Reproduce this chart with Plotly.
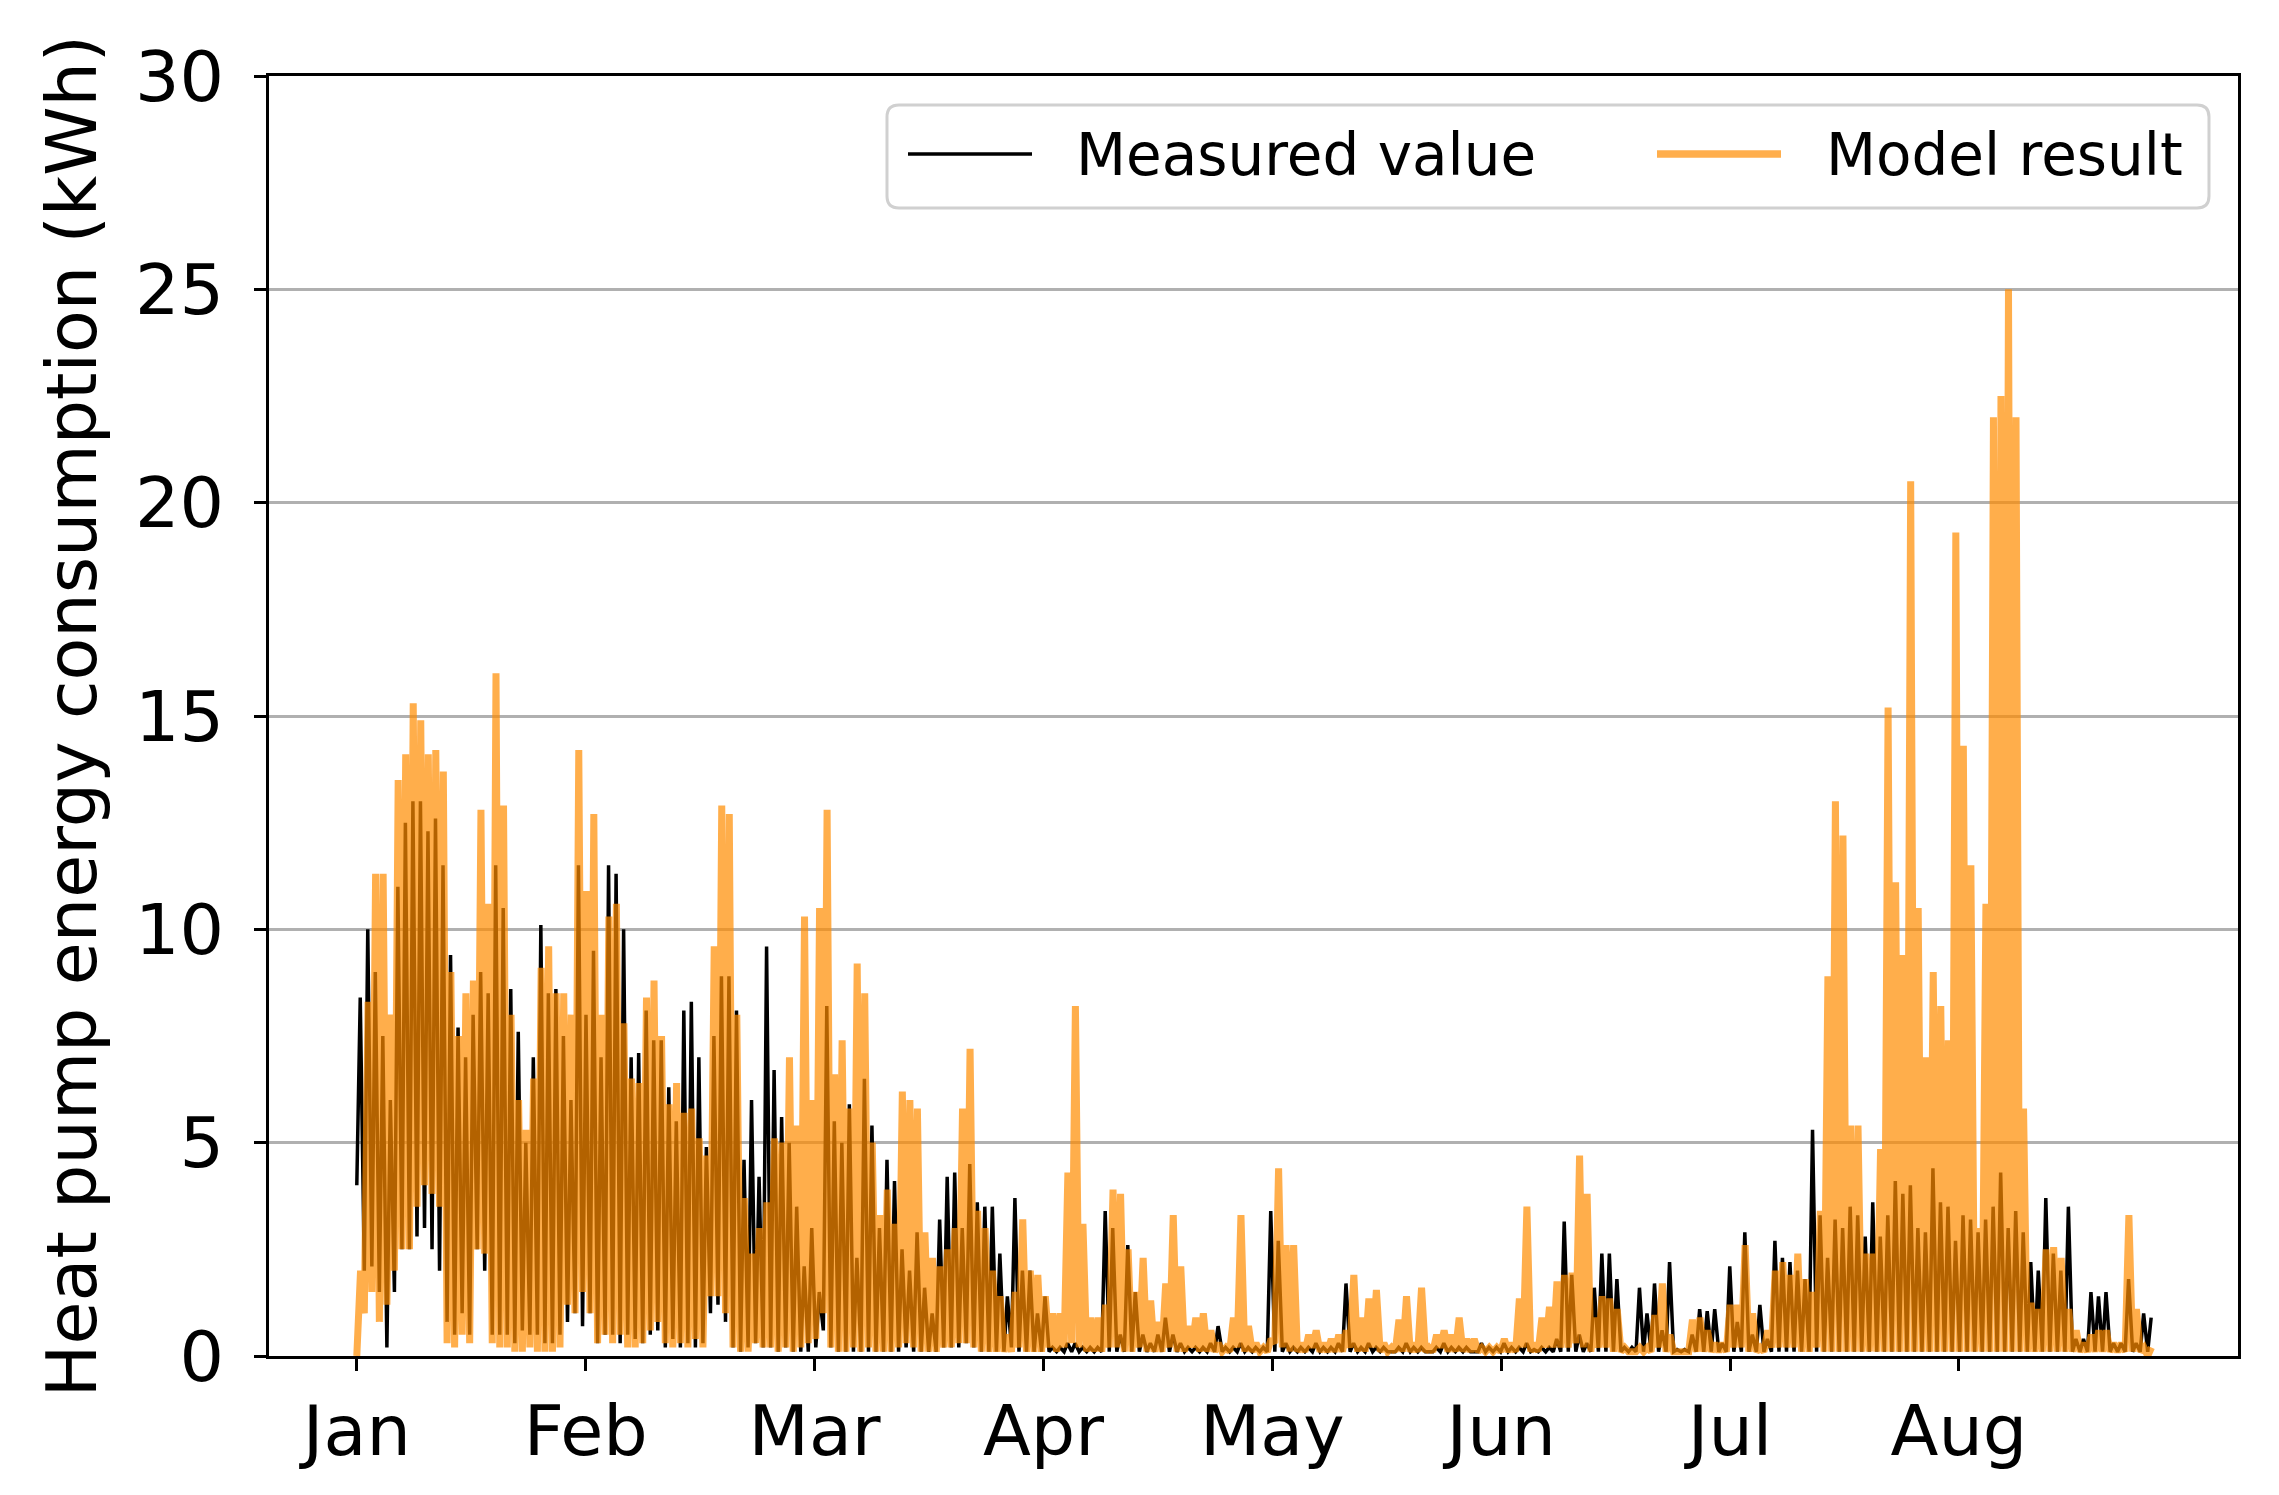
import plotly.graph_objects as go

# ---------------- data (one value pair per day) ----------------
month_labels = ["Jan", "Feb", "Mar", "Apr", "May", "Jun", "Jul", "Aug"]
month_hours = [0, 730, 1460, 2190, 2920, 3650, 4380, 5110]

# Model result: daily peak values (kWh)
model_peak = [
    2.0, 8.3, 11.3, 11.3, 8.0, 13.5, 14.1, 15.3, 14.9, 14.1,
    14.2, 13.7, 9.0, 7.5, 8.5, 8.8, 12.8, 10.6, 16.0, 12.9,
    8.0, 6.0, 5.3, 6.5, 9.1, 9.6, 8.5, 8.5, 8.0, 14.2,
    10.9, 12.7, 8.0, 10.3, 10.6, 7.8, 6.5, 6.4, 8.4, 8.8,
    7.5, 5.9, 6.4, 5.7, 5.8, 5.1, 4.7, 9.6, 12.9, 12.7,
    8.0, 3.7, 2.4, 3.0, 3.6, 5.1, 5.0, 7.0, 5.4, 10.3,
    6.0, 10.5, 12.8, 6.6, 7.4, 5.8, 9.2, 8.5, 5.0, 3.3,
    3.9, 3.1, 6.2, 6.0, 5.8, 2.9, 2.3, 2.1, 2.5, 3.0,
    5.8, 7.2, 3.4, 3.0, 2.0, 1.4, 0.5, 1.5, 3.2, 2.0,
    1.9, 1.4, 1.0, 1.0, 4.3, 8.2, 3.1, 0.9, 0.9, 1.2,
    3.9, 3.8, 2.5, 1.5, 2.3, 1.3, 0.8, 1.7, 3.3, 2.1,
    0.7, 0.9, 1.0, 0.6, 0.3, 0.2, 0.9, 3.3, 0.7, 0.3,
    0.2, 0.4, 4.4, 2.6, 2.6, 0.3, 0.5, 0.6, 0.3, 0.4,
    0.5, 0.6, 1.9, 0.9, 1.35, 1.55, 0.3, 0.2, 0.85, 1.4,
    0.3, 1.6, 0.2, 0.5, 0.6, 0.5, 0.9, 0.4, 0.4, 0.2,
    0.2, 0.2, 0.4, 0.3, 1.35, 3.5, 0.3, 0.9, 1.15, 1.75,
    1.9, 1.95, 4.7, 3.8, 0.9, 1.4, 1.35, 1.1, 0.2, 0.1,
    0.2, 0.2, 0.96, 1.7, 0.5, 0.1, 0.1, 0.85, 0.9, 0.6,
    0.3, 0.3, 1.2, 1.2, 2.6, 1.0, 0.2, 0.6, 2.0, 2.2,
    1.9, 2.4, 1.8, 1.5, 3.4, 8.9, 13.0, 12.2, 5.4, 5.4,
    2.4, 2.4, 4.85, 15.2, 11.1, 9.4, 20.5, 10.5, 7.0, 9.0,
    8.2, 7.4, 19.3, 14.3, 11.5, 3.0, 10.6, 22.0, 22.5, 25.0,
    22.0, 5.8, 1.25, 1.1, 2.5, 2.55, 2.3, 1.1, 0.6, 0.3,
    0.5, 0.6, 0.6, 0.3, 0.3, 3.3, 1.1, 0.2, 0.2,
]

# Model result: daily low values (kWh)
model_low = [
    0.0, 1.0, 1.5, 0.8, 1.2, 2.0, 2.5, 2.5, 3.5, 4.0,
    3.8, 3.5, 0.3, 0.2, 0.5, 0.3, 2.5, 2.4, 0.3, 0.2,
    0.2, 0.1, 0.1, 0.2, 0.1, 0.1, 0.1, 0.2, 1.2, 1.0,
    1.5, 1.0, 0.3, 0.5, 0.3, 0.5, 0.2, 0.2, 0.3, 0.6,
    0.8, 0.3, 0.2, 0.3, 0.2, 0.4, 0.2, 1.4, 1.4, 1.0,
    0.2, 0.1, 0.1, 0.3, 0.2, 0.2, 0.1, 0.2, 0.1, 0.2,
    0.3, 0.4, 1.0, 0.2, 0.1, 0.1, 0.2, 0.1, 0.2, 0.1,
    0.1, 0.1, 0.2, 0.3, 0.2, 0.1, 0.1, 0.1, 0.2, 0.2,
    0.3, 0.3, 0.2, 0.1, 0.1, 0.1, 0.1, 0.1, 0.2, 0.1,
    0.1, 0.1, 0.2, 0.1, 0.2, 0.3, 0.2, 0.1, 0.1, 0.1,
    0.2, 0.2, 0.1, 0.1, 0.2, 0.1, 0.1, 0.1, 0.2, 0.1,
    0.1, 0.2, 0.1, 0.1, 0.1, 0.1, 0.1, 0.2, 0.1, 0.1,
    0.1, 0.1, 0.3, 0.2, 0.1, 0.1, 0.1, 0.2, 0.1, 0.1,
    0.1, 0.1, 0.2, 0.1, 0.1, 0.2, 0.1, 0.1, 0.1, 0.1,
    0.1, 0.1, 0.1, 0.1, 0.2, 0.1, 0.1, 0.1, 0.1, 0.1,
    0.1, 0.1, 0.1, 0.1, 0.1, 0.2, 0.1, 0.1, 0.2, 0.2,
    0.2, 0.2, 0.3, 0.2, 0.1, 0.2, 0.2, 0.1, 0.1, 0.1,
    0.1, 0.1, 0.1, 0.2, 0.1, 0.1, 0.1, 0.1, 0.1, 0.1,
    0.1, 0.1, 0.1, 0.2, 0.2, 0.1, 0.1, 0.1, 0.2, 0.2,
    0.2, 0.2, 0.1, 0.1, 0.2, 0.1, 0.1, 0.1, 0.1, 0.1,
    0.1, 0.1, 0.1, 0.1, 0.1, 0.1, 0.1, 0.1, 0.1, 0.1,
    0.1, 0.1, 0.1, 0.1, 0.1, 0.1, 0.1, 0.1, 0.1, 0.1,
    0.1, 0.1, 0.1, 0.1, 0.1, 0.1, 0.1, 0.1, 0.1, 0.1,
    0.1, 0.1, 0.1, 0.1, 0.1, 0.1, 0.1, 0.1, 0.0,
]

# Measured value: daily peak values (kWh)
measured_peak = [
    8.4, 10.0, 9.0, 7.5, 6.0, 11.0, 12.5, 13.0, 13.0, 12.3,
    12.6, 11.5, 9.4, 7.7, 7.0, 8.0, 9.0, 8.5, 11.5, 10.5,
    8.6, 7.6, 5.0, 7.0, 10.1, 8.5, 8.6, 7.5, 6.0, 11.5,
    8.0, 9.5, 7.0, 11.5, 11.3, 10.0, 7.0, 7.1, 8.1, 7.4,
    7.4, 6.3, 5.5, 8.1, 8.3, 7.0, 4.9, 7.5, 8.9, 8.9,
    8.1, 4.6, 6.0, 4.2, 9.6, 6.7, 5.6, 5.0, 3.5, 2.1,
    3.0, 1.5, 8.2, 5.5, 5.0, 5.9, 2.3, 6.5, 5.4, 3.0,
    4.6, 4.1, 2.5, 2.0, 2.9, 1.6, 1.0, 3.2, 4.2, 4.3,
    3.0, 4.5, 3.6, 3.5, 3.5, 2.4, 1.4, 3.7, 2.0, 2.0,
    1.0, 1.4, 0.2, 0.2, 0.3, 0.3, 0.2, 0.2, 0.2, 3.4,
    3.0, 0.5, 2.6, 1.5, 0.5, 0.3, 0.5, 0.9, 0.5, 0.3,
    0.2, 0.2, 0.2, 0.3, 0.7, 0.2, 0.2, 0.3, 0.2, 0.2,
    0.2, 3.4, 2.7, 0.3, 0.2, 0.2, 0.2, 0.3, 0.2, 0.2,
    0.3, 1.7, 0.3, 0.2, 0.3, 0.2, 0.2, 0.1, 0.2, 0.3,
    0.2, 0.2, 0.1, 0.2, 0.3, 0.2, 0.2, 0.2, 0.1, 0.3,
    0.2, 0.2, 0.3, 0.2, 0.2, 0.3, 0.15, 0.2, 0.2, 0.4,
    3.15, 1.9, 0.5, 0.3, 1.6, 2.4, 2.4, 1.8, 0.2, 0.2,
    1.6, 1.0, 1.7, 0.6, 2.2, 0.15, 0.15, 0.5, 1.1, 1.05,
    1.1, 0.3, 2.1, 0.8, 2.9, 0.5, 1.2, 0.4, 2.7, 2.3,
    2.2, 2.0, 1.8, 5.3, 3.3, 2.3, 3.2, 3.0, 3.5, 3.3,
    2.8, 3.6, 2.8, 3.3, 4.1, 3.8, 4.0, 3.0, 2.9, 4.4,
    3.6, 3.5, 2.7, 3.3, 3.2, 2.9, 3.2, 3.5, 4.3, 3.0,
    3.4, 2.9, 2.2, 2.0, 3.7, 2.4, 2.0, 3.5, 0.4, 0.4,
    1.5, 1.4, 1.5, 0.3, 0.3, 1.8, 0.3, 1.0, 0.9,
]

# Measured value: daily low values (kWh)
measured_low = [
    4.0, 2.0, 2.1, 1.5, 0.2, 1.5, 2.5, 2.5, 2.8, 3.0,
    2.5, 2.0, 0.8, 0.5, 1.0, 0.5, 2.5, 2.0, 0.5, 0.5,
    0.5, 0.3, 0.6, 0.5, 0.5, 0.3, 0.3, 0.5, 0.8, 1.0,
    0.7, 1.0, 0.3, 0.5, 0.5, 0.3, 0.5, 0.4, 0.3, 0.5,
    0.6, 0.2, 0.4, 0.2, 0.3, 0.2, 0.3, 1.0, 1.2, 0.8,
    0.2, 0.1, 0.2, 0.3, 0.2, 0.2, 0.1, 0.2, 0.1, 0.1,
    0.1, 0.2, 0.6, 0.2, 0.1, 0.1, 0.1, 0.1, 0.1, 0.1,
    0.1, 0.1, 0.1, 0.2, 0.1, 0.1, 0.1, 0.1, 0.2, 0.2,
    0.2, 0.3, 0.2, 0.1, 0.1, 0.1, 0.1, 0.2, 0.1, 0.1,
    0.1, 0.1, 0.1, 0.1, 0.1, 0.1, 0.1, 0.1, 0.1, 0.1,
    0.1, 0.1, 0.1, 0.1, 0.1, 0.1, 0.1, 0.1, 0.1, 0.1,
    0.1, 0.1, 0.1, 0.1, 0.1, 0.1, 0.1, 0.1, 0.1, 0.1,
    0.1, 0.1, 0.1, 0.1, 0.1, 0.1, 0.1, 0.1, 0.1, 0.1,
    0.1, 0.1, 0.1, 0.1, 0.1, 0.1, 0.1, 0.1, 0.1, 0.1,
    0.1, 0.1, 0.1, 0.1, 0.1, 0.1, 0.1, 0.1, 0.1, 0.1,
    0.1, 0.1, 0.1, 0.1, 0.1, 0.1, 0.1, 0.1, 0.1, 0.1,
    0.1, 0.1, 0.1, 0.1, 0.1, 0.1, 0.1, 0.1, 0.1, 0.1,
    0.1, 0.1, 0.1, 0.1, 0.1, 0.1, 0.1, 0.1, 0.1, 0.1,
    0.1, 0.1, 0.1, 0.1, 0.1, 0.1, 0.1, 0.1, 0.1, 0.1,
    0.1, 0.1, 0.1, 0.1, 0.1, 0.1, 0.1, 0.1, 0.1, 0.1,
    0.1, 0.1, 0.1, 0.1, 0.1, 0.1, 0.1, 0.1, 0.1, 0.1,
    0.1, 0.1, 0.1, 0.1, 0.1, 0.1, 0.1, 0.1, 0.1, 0.1,
    0.1, 0.1, 0.1, 0.1, 0.1, 0.1, 0.1, 0.1, 0.1, 0.1,
    0.1, 0.1, 0.1, 0.1, 0.1, 0.1, 0.1, 0.1, 0.1,
]

assert len(model_peak) == len(model_low) == len(measured_peak) == len(measured_low)


def day_series(low, peak, peak_offset):
    """Interleave each day's low and peak reading onto an hourly time axis."""
    xs, ys = [], []
    for d, (lo, hi) in enumerate(zip(low, peak)):
        xs += [24 * d, 24 * d + peak_offset]
        ys += [lo, hi]
    return xs, ys


mx, my = day_series(measured_low, measured_peak, 11)
ox, oy = day_series(model_low, model_peak, 12)

# ---------------- figure ----------------
W, H = 2279, 1495
PL, PR, PT, PB = 269, 2238, 76, 1356  # plot area in pixels
FONT = "DejaVu Sans"
ORANGE = "#FF8C00"

fig = go.Figure()
fig.add_trace(go.Scatter(x=mx, y=my, mode="lines", name="Measured value",
                         line=dict(color="black", width=3.5), showlegend=False))
fig.add_trace(go.Scatter(x=ox, y=oy, mode="lines", name="Model result",
                         line=dict(color=ORANGE, width=7), opacity=0.7, showlegend=False))


def px_x(p):
    return (p - PL) / (PR - PL)


def px_y(p):
    return (PB - p) / (PB - PT)


# manual matplotlib-style legend
bx0, by0, bx1, by1, r = 887, 105, 2209, 208, 12
pts = [
    ("M", bx0 + r, by0), ("L", bx1 - r, by0), ("Q", bx1, by0, bx1, by0 + r),
    ("L", bx1, by1 - r), ("Q", bx1, by1, bx1 - r, by1), ("L", bx0 + r, by1),
    ("Q", bx0, by1, bx0, by1 - r), ("L", bx0, by0 + r), ("Q", bx0, by0, bx0 + r, by0),
]
path = ""
for p in pts:
    cmd, coords = p[0], p[1:]
    conv = []
    for i in range(0, len(coords), 2):
        conv.append(f"{px_x(coords[i]):.5f},{px_y(coords[i + 1]):.5f}")
    path += cmd + " " + " ".join(conv) + " "
path += "Z"

shapes = [
    dict(type="path", path=path, xref="paper", yref="paper",
         line=dict(color="#d0d0d0", width=3), fillcolor="rgba(255,255,255,0.85)", layer="above"),
    dict(type="line", xref="paper", yref="paper", x0=px_x(908), x1=px_x(1032),
         y0=px_y(154), y1=px_y(154), line=dict(color="black", width=3.5), layer="above"),
    dict(type="line", xref="paper", yref="paper", x0=px_x(1657), x1=px_x(1781),
         y0=px_y(154), y1=px_y(154), line=dict(color="rgba(255,140,0,0.7)", width=7.5), layer="above"),
]
annotations = [
    dict(text="Measured value", xref="paper", yref="paper", x=px_x(1074), y=px_y(155),
         xanchor="left", yanchor="middle", showarrow=False, font=dict(family=FONT, size=58, color="black")),
    dict(text="Model result", xref="paper", yref="paper", x=px_x(1824), y=px_y(155),
         xanchor="left", yanchor="middle", showarrow=False, font=dict(family=FONT, size=58, color="black")),
]

fig.update_layout(
    width=W, height=H,
    margin=dict(l=PL, r=W - PR, t=PT, b=H - PB),
    paper_bgcolor="white", plot_bgcolor="white",
    font=dict(family=FONT, size=70, color="black"),
    shapes=shapes, annotations=annotations,
    showlegend=False,
)
fig.update_xaxes(
    range=[-280, 6000], tickvals=month_hours, ticktext=month_labels,
    showgrid=False, zeroline=False,
    showline=True, mirror=True, linecolor="black", linewidth=3,
    ticks="outside", ticklen=12, tickwidth=3, tickcolor="black",
    tickfont=dict(family=FONT, size=70, color="black"), ticklabelstandoff=0,
)
fig.update_yaxes(
    range=[0, 30], tickvals=[0, 5, 10, 15, 20, 25, 30],
    showgrid=True, gridcolor="#b0b0b0", gridwidth=2.5, zeroline=False,
    showline=True, mirror=True, linecolor="black", linewidth=3,
    ticks="outside", ticklen=12, tickwidth=3, tickcolor="black",
    tickfont=dict(family=FONT, size=70, color="black"), ticklabelstandoff=16,
    title=dict(text="Heat pump energy consumption (kWh)", standoff=16,
               font=dict(family=FONT, size=70, color="black")),
)

fig.write_html(
    "out.html",
    config={"displayModeBar": False},
    post_script="document.body.style.margin='0px';document.body.style.overflow='hidden';",
)
